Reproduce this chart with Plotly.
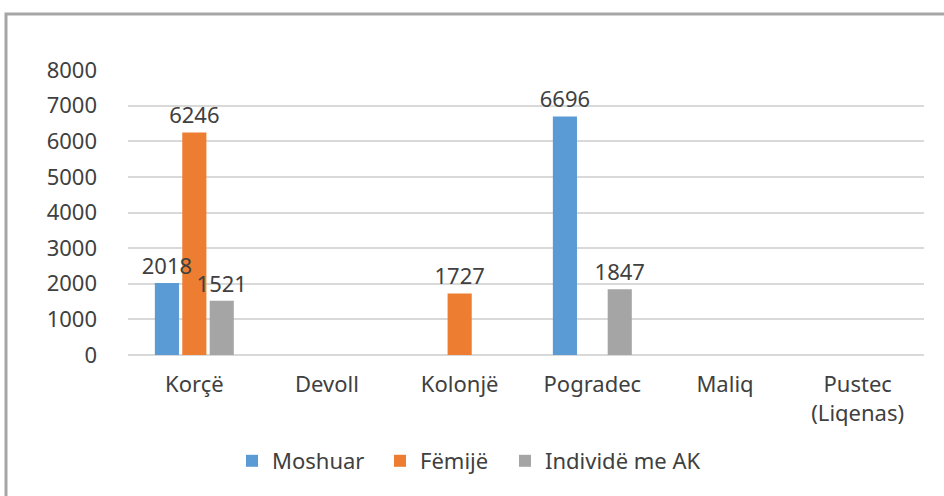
import plotly.graph_objects as go

# Data per municipality
categories = ["Korçë", "Devoll", "Kolonjë", "Pogradec", "Maliq", "Pustec<br>(Liqenas)"]
moshuar = [2018, None, None, 6696, None, None]
femije = [6246, None, 1727, None, None, None]
individe_ak = [1521, None, None, 1847, None, None]

series = [
    ("Moshuar", moshuar, "#5B9BD5"),
    ("Fëmijë", femije, "#ED7D31"),
    ("Individë me AK", individe_ak, "#A5A5A5"),
]

FONT = "Noto Sans"
TEXT_COLOR = "#404040"

W, H = 944, 496
L, R, T, B = 128, 20, 70, 141
pw, ph = W - L - R, H - T - B

def px_x(p):
    return (p - L) / pw

def px_y(p):
    return (H - B - p) / ph

legend_ids = ["legend", "legend2", "legend3"]
legend_left_px = [232, 380, 505]

fig = go.Figure()
# Filled bars
for i, ((name, vals, color), lid) in enumerate(zip(series, legend_ids)):
    fig.add_trace(go.Bar(
        name=name,
        x=categories,
        y=vals,
        offsetgroup=str(i),
        marker=dict(color=color, line=dict(width=0)),
        legend=lid,
    ))

# Value labels on a transparent layer above every bar
for i, (name, vals, color) in enumerate(series):
    fig.add_trace(go.Bar(
        name=name,
        x=categories,
        y=vals,
        offsetgroup=str(i),
        marker=dict(color="rgba(0,0,0,0)", line=dict(width=0)),
        text=[str(v) if v is not None else "" for v in vals],
        textposition="outside",
        constraintext="none",
        textfont=dict(family=FONT, size=22, color=TEXT_COLOR),
        cliponaxis=False,
        showlegend=False,
        hoverinfo="skip",
    ))

legend_common = dict(
    orientation="h",
    yanchor="top",
    y=px_y(440),
    xanchor="left",
    font=dict(family=FONT, size=22, color=TEXT_COLOR),
    itemwidth=30,
    bgcolor="rgba(0,0,0,0)",
)

fig.update_layout(
    width=W, height=H,
    margin=dict(l=L, r=R, t=T, b=B),
    paper_bgcolor="white",
    plot_bgcolor="white",
    barmode="group",
    bargap=0.38,
    bargroupgap=0.12,
    font=dict(family=FONT, size=22, color=TEXT_COLOR),
    showlegend=True,
    legend=dict(legend_common, x=px_x(legend_left_px[0])),
    legend2=dict(legend_common, x=px_x(legend_left_px[1])),
    legend3=dict(legend_common, x=px_x(legend_left_px[2])),
    xaxis=dict(
        showgrid=False,
        showline=False,
        ticks="",
        tickfont=dict(family=FONT, size=22, color=TEXT_COLOR),
        ticklabelstandoff=14,
    ),
    yaxis=dict(
        range=[0, 8000],
        tickvals=[0, 1000, 2000, 3000, 4000, 5000, 6000, 7000, 8000],
        showgrid=True,
        gridcolor="#D9D9D9",
        gridwidth=2,
        zeroline=True,
        zerolinecolor="#D9D9D9",
        zerolinewidth=2,
        showline=False,
        ticks="",
        tickfont=dict(family=FONT, size=22, color=TEXT_COLOR),
        ticklabelstandoff=30,
    ),
    shapes=[
        # chart frame
        dict(type="rect", xref="paper", yref="paper",
             x0=px_x(6), x1=px_x(960), y0=px_y(520), y1=px_y(14),
             line=dict(color="#A6A6A6", width=3), fillcolor="rgba(0,0,0,0)",
             layer="below"),
    ],
)

fig.write_html("out.html")
